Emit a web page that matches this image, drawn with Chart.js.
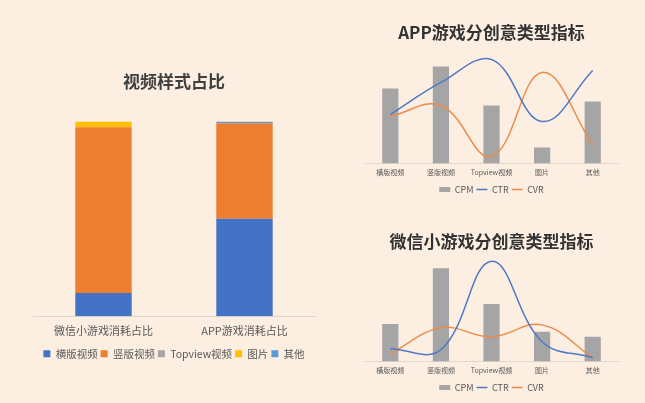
<!DOCTYPE html>
<html>
<head>
<meta charset="utf-8">
<script src="https://cdn.jsdelivr.net/npm/chart.js@4"></script>
<style>
  body { margin: 0; width: 645px; height: 403px; background: #fcefe2; overflow: hidden; position: relative; }
  canvas { position: absolute; }
  #styleChart { left: 0; top: 55px; }
  #appChart { left: 345px; top: 0; }
  #wxChart { left: 345px; top: 205px; }
</style>
</head>
<body>
<canvas id="styleChart" width="340" height="318"></canvas>
<canvas id="appChart" width="300" height="204"></canvas>
<canvas id="wxChart" width="300" height="198"></canvas>
<script>
// 视频样式占比 (%)
const styleCats = ['微信小游戏消耗占比', 'APP游戏消耗占比'];
const hengban = [12, 50];
const shuban = [85, 49];
const topview = [0, 0];
const tupian = [3, 0];
const qita = [0, 1];

// 分创意类型指标 (相对值)
const creativeCats = ['横版视频', '竖版视频', 'Topview视频', '图片', '其他'];
const appCPM = [75, 97, 58, 16, 62];
const appCTR = [49, 81, 104, 42, 93];
const appCVR = [47, 58, 7, 91, 19];
const wxCPM = [38, 94, 58, 30, 25];
const wxCTR = [13, 12, 101, 20, 4];
const wxCVR = [8, 34, 25, 37, 4];

const FONT = '"Noto Sans CJK SC", "Noto Sans", sans-serif';
Chart.defaults.font.family = FONT;
Chart.defaults.color = '#595959';

new Chart(document.getElementById('styleChart'), {
    type: 'bar',
    data: {
        labels: styleCats,
        datasets: [
            { label: '横版视频', data: hengban, backgroundColor: '#4472c4' },
            { label: '竖版视频', data: shuban, backgroundColor: '#ed7d31' },
            { label: 'Topview视频', data: topview, backgroundColor: '#a5a5a5' },
            { label: '图片', data: tupian, backgroundColor: '#ffc000' },
            { label: '其他', data: qita, backgroundColor: '#5b9bd5' }
        ]
    },
    options: {
        responsive: false,
        animation: false,
        barPercentage: 0.4,
        categoryPercentage: 1,
        layout: { padding: { left: 33, right: 25, bottom: 4 } },
        plugins: {
            title: {
                display: true, text: '视频样式占比', color: '#404040',
                font: { size: 17, weight: 'bold' },
                padding: { top: 16, bottom: 30 }
            },
            legend: {
                position: 'bottom',
                labels: { boxWidth: 7, boxHeight: 7, padding: 3, font: { size: 10.5 } }
            },
            tooltip: { enabled: false }
        },
        scales: {
            x: {
                stacked: true,
                grid: { display: false, drawTicks: false },
                border: { color: '#dcd6d0' },
                ticks: { font: { size: 11 }, padding: 8 }
            },
            y: { stacked: true, display: false, min: 0, max: 100 }
        }
    }
});

function comboChart(id, title, cpm, ctr, cvr, yMax, pad) {
    return new Chart(document.getElementById(id), {
        data: {
            labels: creativeCats,
            datasets: [
                { type: 'bar', label: 'CPM', data: cpm, backgroundColor: '#a5a5a5',
                  barPercentage: 0.32, categoryPercentage: 1, pointStyle: 'rect', order: 3 },
                { type: 'line', label: 'CTR', data: ctr, borderColor: '#4f79c7', borderWidth: 1.5,
                  pointRadius: 0, tension: 0.4, pointStyle: 'line', order: 1 },
                { type: 'line', label: 'CVR', data: cvr, borderColor: '#ee8a4a', borderWidth: 1.5,
                  pointRadius: 0, tension: 0.4, pointStyle: 'line', order: 2 }
            ]
        },
        options: {
            responsive: false,
            animation: false,
            layout: { padding: { left: 20, right: 27, bottom: pad.bottom } },
            plugins: {
                title: {
                    display: true, text: title, color: '#333333',
                    font: { size: 17, weight: 'bold' },
                    padding: { top: pad.titleTop, bottom: pad.titleBottom }
                },
                legend: {
                    position: 'bottom',
                    labels: { usePointStyle: true, pointStyleWidth: 11, boxHeight: 5,
                              padding: 3, font: { size: 9 },
                              sort: (a, b) => a.datasetIndex - b.datasetIndex }
                },
                tooltip: { enabled: false }
            },
            scales: {
                x: {
                    grid: { display: false, drawTicks: false },
                    border: { color: '#e0d8d0' },
                    ticks: { font: { size: 7 }, padding: 5 }
                },
                y: { display: false, min: 0, max: yMax }
            }
        }
    });
}

comboChart('appChart', 'APP游戏分创意类型指标', appCPM, appCTR, appCVR, 109,
    { titleTop: 22, titleBottom: 12, bottom: 0 });
comboChart('wxChart', '微信小游戏分创意类型指标', wxCPM, wxCTR, wxCVR, 106,
    { titleTop: 26, titleBottom: 5, bottom: 1 });
</script>
</body>
</html>
